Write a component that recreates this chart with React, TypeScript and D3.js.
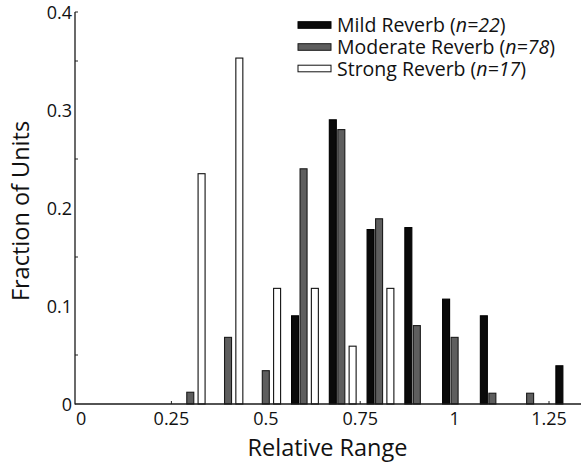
import React from "react";
import * as d3 from "d3";

// Histogram of relative range for three reverb conditions
const binCenters = [0.3, 0.4, 0.5, 0.6, 0.7, 0.8, 0.9, 1.0, 1.1, 1.2, 1.3];
const mildValues = [0, 0, 0, 0.09, 0.29, 0.178, 0.18, 0.107, 0.09, 0, 0.039];
const moderateValues = [0.012, 0.068, 0.034, 0.24, 0.28, 0.189, 0.08, 0.068, 0.011, 0.011, 0];
const strongValues = [0.235, 0.353, 0.118, 0.118, 0.059, 0.118, 0, 0, 0, 0, 0];

const seriesNames = ["Mild Reverb", "Moderate Reverb", "Strong Reverb"];
const seriesCounts = [22, 78, 17];

const xTickValues = [0, 0.25, 0.5, 0.75, 1, 1.25];
const xTickLabels = ["0", "0.25", "0.5", "0.75", "1", "1.25"];
const yTickValues = [0, 0.1, 0.2, 0.3, 0.4];
const yTickLabels = ["0", "0.1", "0.2", "0.3", "0.4"];
const yMinorTicks = [0.05, 0.15, 0.25, 0.35, 0.4];

const W = 581;
const H = 465;
const FONT = "'Open Sans', 'DejaVu Sans', sans-serif";

export default function App() {
  const x = d3.scaleLinear().domain([0, 1.25]).range([77, 549]);
  const y = d3.scaleLinear().domain([0, 0.4]).range([404, 12]);
  const axisLeft = 75;
  const axisRight = 584;

  const barW = 7;
  const series = [
    { values: mildValues, offset: -8.5, fill: "#0a0a0a", stroke: "#000" },
    { values: moderateValues, offset: 0, fill: "#5e5e5e", stroke: "#1a1a1a" },
    { values: strongValues, offset: 11.3, fill: "#ffffff", stroke: "#111" },
  ];

  const legendX = 298;
  const legendRows = [25, 47, 68.5];

  return (
    <svg
      width={W}
      height={H}
      viewBox={`0 0 ${W} ${H}`}
      style={{ position: "absolute", left: 0, top: 0, background: "#fff" }}
      fontFamily={FONT}
    >
      {/* ticks */}
      {yMinorTicks.map((t, i) => (
        <line key={"ym" + i} x1={axisLeft} x2={axisLeft + 3} y1={y(t)} y2={y(t)} stroke="#222" strokeWidth={1} />
      ))}
      {xTickValues.slice(1).map((t, i) => (
        <line key={"xm" + i} x1={x(t)} x2={x(t)} y1={y(0)} y2={y(0) - 3} stroke="#222" strokeWidth={1} />
      ))}

      {/* bars */}
      {series.map((s, si) =>
        s.values.map((v, i) =>
          v > 0 ? (
            <rect
              key={`b${si}-${i}`}
              x={x(binCenters[i]) + s.offset - barW / 2}
              y={y(v)}
              width={barW}
              height={y(0) - y(v)}
              fill={s.fill}
              stroke={s.stroke}
              strokeWidth={1.1}
            />
          ) : null
        )
      )}

      {/* axes */}
      <line x1={axisLeft} x2={axisLeft} y1={y(0.4)} y2={y(0) + 0.6} stroke="#1a1a1a" strokeWidth={1.3} />
      <line x1={axisLeft} x2={axisRight} y1={y(0)} y2={y(0)} stroke="#1a1a1a" strokeWidth={1.3} />

      {/* y tick labels */}
      {yTickValues.map((t, i) => (
        <text key={"yl" + i} x={72} y={y(t) + 7} textAnchor="end" fontSize={18} fill="#111">
          {yTickLabels[i]}
        </text>
      ))}

      {/* x tick labels */}
      {xTickValues.map((t, i) => (
        <text
          key={"xl" + i}
          x={i === 0 ? x(t) - 1 : x(t)}
          y={425}
          textAnchor={i === 0 ? "start" : "middle"}
          fontSize={18}
          fill="#111"
        >
          {xTickLabels[i]}
        </text>
      ))}

      {/* axis titles */}
      <text x={327.5} y={456} textAnchor="middle" fontSize={23.5} fill="#111">
        Relative Range
      </text>
      <text
        transform={`translate(28.5, 211) rotate(-90)`}
        textAnchor="middle"
        fontSize={23.5}
        fill="#111"
      >
        Fraction of Units
      </text>

      {/* legend */}
      {seriesNames.map((name, i) => (
        <g key={"lg" + i}>
          <rect
            x={legendX}
            y={legendRows[i] - 3.3}
            width={33}
            height={6.6}
            fill={series[i].fill}
            stroke={series[i].stroke}
            strokeWidth={1}
          />
          <text x={337} y={legendRows[i] + 7} fontSize={19.5} fill="#111">
            {name} (<tspan fontStyle="italic">n={seriesCounts[i]}</tspan>)
          </text>
        </g>
      ))}
    </svg>
  );
}
